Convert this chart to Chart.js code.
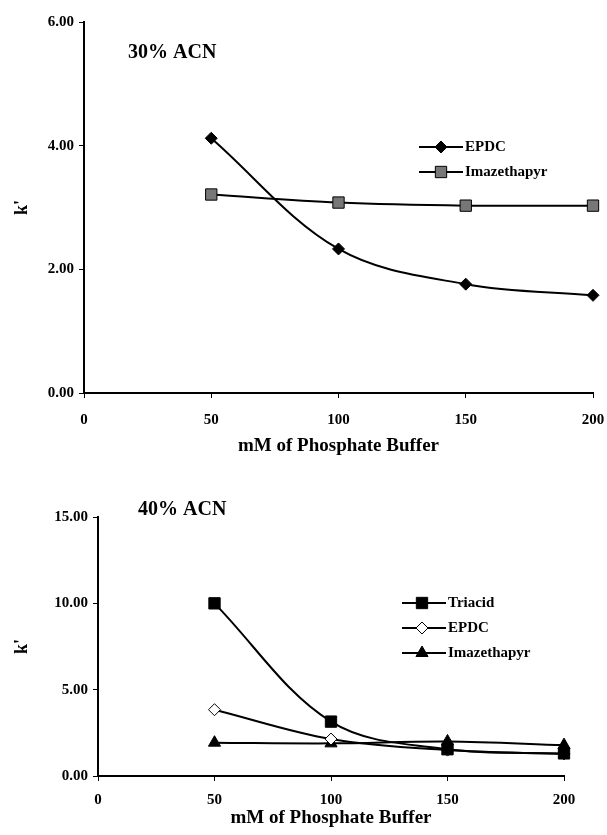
<!DOCTYPE html>
<html lang="en">
<head>
    <meta charset="UTF-8">
    <title>k' vs phosphate buffer</title>
    <style>
        body { margin: 0; background: #fff; }
        canvas { position: absolute; left: 0; }
        #chart30 { top: 0; }
        #chart40 { top: 460px; }
    </style>
</head>
<body>
<canvas id="chart30" width="607" height="460"></canvas>
<canvas id="chart40" width="607" height="375"></canvas>
<script src="https://cdn.jsdelivr.net/npm/chart.js@4.4.1/dist/chart.umd.min.js"></script>
<script>
    // mM of phosphate buffer
    const bufferConc = [50, 100, 150, 200];

    // 30% ACN
    const epdc30 = [4.12, 2.33, 1.76, 1.58];
    const imaz30 = [3.21, 3.08, 3.03, 3.03];

    // 40% ACN
    const triacid40 = [10.0, 3.15, 1.55, 1.31];
    const epdc40 = [3.84, 2.14, 1.50, 1.28];
    const imaz40 = [1.93, 1.89, 2.00, 1.79];

    const serif = '"Liberation Serif", "Times New Roman", serif';
    const tickFont = {family: serif, size: 15, weight: 'bold'};
    const titleFont = {family: serif, size: 19, weight: 'bold'};

    function pts(ys) {
        return bufferConc.map((x, i) => ({x: x, y: ys[i]}));
    }

    function series(label, ys, style, fill, radius) {
        return {
            label: label,
            data: pts(ys),
            borderColor: '#000',
            borderWidth: 2,
            tension: 0.35,
            pointStyle: style,
            pointRadius: radius,
            pointBackgroundColor: fill,
            pointBorderColor: '#000',
            pointBorderWidth: 1,
            clip: 12
        };
    }

    // line + marker legend, and the panel label
    const sketchLegend = {
        id: 'sketchLegend',
        afterDraw(chart, args, opts) {
            const ctx = chart.ctx;
            ctx.save();
            chart.data.datasets.forEach((ds, i) => {
                const y = opts.y + i * opts.gap;
                ctx.strokeStyle = '#000';
                ctx.lineWidth = 2;
                ctx.beginPath();
                ctx.moveTo(opts.x, y);
                ctx.lineTo(opts.x + opts.len, y);
                ctx.stroke();
                ctx.fillStyle = ds.pointBackgroundColor;
                ctx.lineWidth = 1;
                Chart.helpers.drawPoint(ctx, {pointStyle: ds.pointStyle, radius: ds.pointRadius, borderWidth: 1, rotation: 0},
                    opts.x + opts.mark, y);
                ctx.fillStyle = '#000';
                ctx.font = 'bold 15px ' + serif;
                ctx.textBaseline = 'middle';
                ctx.textAlign = 'left';
                ctx.fillText(ds.label, opts.x + opts.len + 2, y);
            });
            ctx.font = 'bold 20px ' + serif;
            ctx.textBaseline = 'middle';
            ctx.fillText(opts.panel, opts.px, opts.py);
            ctx.restore();
        }
    };

    function makeChart(id, datasets, yMax, yStep, yWidth, xHeight, pad, tickPad, titlePad, legend) {
        return new Chart(document.getElementById(id).getContext('2d'), {
            type: 'line',
            data: {datasets: datasets},
            options: {
                responsive: false,
                animation: false,
                layout: {padding: pad, autoPadding: false},
                plugins: {
                    legend: {display: false},
                    tooltip: {enabled: false},
                    sketchLegend: legend
                },
                scales: {
                    x: {
                        type: 'linear', min: 0, max: 200,
                        ticks: {stepSize: 50, color: '#000', font: tickFont, padding: tickPad, maxRotation: 0},
                        grid: {drawOnChartArea: false, tickLength: 5, color: '#000'},
                        border: {color: '#000', width: 2},
                        title: {display: true, text: 'mM of Phosphate Buffer', color: '#000', font: titleFont,
                            padding: {top: 0, bottom: titlePad}},
                        afterFit: s => { s.height = xHeight; s.paddingLeft = 0; s.paddingRight = 0; }
                    },
                    y: {
                        min: 0, max: yMax,
                        ticks: {stepSize: yStep, color: '#000', font: tickFont, padding: 5,
                            callback: v => v.toFixed(2)},
                        grid: {drawOnChartArea: false, tickLength: 5, color: '#000'},
                        border: {color: '#000', width: 2},
                        title: {display: true, text: "k'", color: '#000', font: {family: serif, size: 18, weight: 'bold'},
                            padding: {top: 12, bottom: 0}},
                        afterFit: s => { s.width = yWidth; }
                    }
                }
            },
            plugins: [sketchLegend]
        });
    }

    makeChart('chart30', [
        series('EPDC', epdc30, 'rectRot', '#000', 6),
        series('Imazethapyr', imaz30, 'rect', '#777', 8)
    ], 6, 2, 84, 67, {left: 0, right: 14, top: 22, bottom: 0}, 13, 3,
        {x: 419, len: 44, mark: 22, y: 147, gap: 25, panel: '30% ACN', px: 128, py: 53});

    makeChart('chart40', [
        series('Triacid', triacid40, 'rect', '#000', 8),
        series('EPDC', epdc40, 'rectRot', '#fff', 6),
        series('Imazethapyr', imaz40, 'triangle', '#000', 7)
    ], 15, 5, 98, 59, {left: 0, right: 43, top: 57, bottom: 0}, 10, 6,
        {x: 402, len: 44, mark: 20, y: 143, gap: 25, panel: '40% ACN', px: 138, py: 50});
</script>
</body>
</html>
